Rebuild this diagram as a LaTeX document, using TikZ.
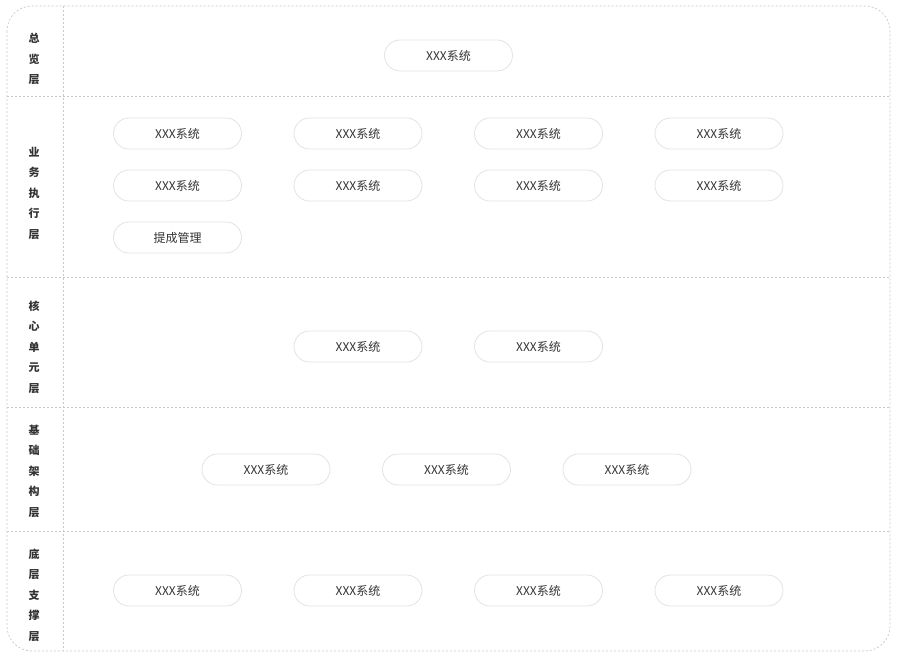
\documentclass[tikz,border=0pt]{standalone}
\usepackage{fontspec}
\setmainfont{Noto Sans CJK SC}
\definecolor{frameC}{HTML}{C8C8C8}
\definecolor{pillC}{HTML}{E3E3E3}
\definecolor{txtC}{HTML}{333333}
\begin{document}
\begin{tikzpicture}[x=1pt,y=-1pt,
  frame/.style={draw=frameC,line width=0.7pt,dash pattern=on 2pt off 2pt},
  pill/.style={draw=pillC,line width=0.8pt,fill=white,rounded corners=15.5pt,
    minimum width=128pt,minimum height=31pt,inner sep=0pt,
    font=\fontsize{12}{14}\selectfont,text=txtC},
  lab/.style={align=center,inner sep=0pt,font=\fontsize{11}{20.5}\selectfont\bfseries,text=txtC}]
\useasboundingbox (0,0) rectangle (898,658);
% frame
\draw[frame,rounded corners=25pt] (7,6) rectangle (890,651);
\draw[frame] (63,6) -- (63,651);
\foreach \yy in {96,277,407,531} \draw[frame] (7,\yy) -- (890,\yy);
% labels
\node[lab] (l1) at (34,59) {总\\览\\层};
\node[lab] (l2) at (34,193) {业\\务\\执\\行\\层};
\node[lab] (l3) at (34,347) {核\\心\\单\\元\\层};
\node[lab] (l4) at (34,471) {基\\础\\架\\构\\层};
\node[lab] (l5) at (34,595) {底\\层\\支\\撑\\层};
% overview
\node[pill] (o1) at (448.5,55.5) {XXX系统};
% business
\node[pill] (b1) at (177.5,133.5) {XXX系统};
\node[pill] (b2) at (358,133.5) {XXX系统};
\node[pill] (b3) at (538.5,133.5) {XXX系统};
\node[pill] (b4) at (719,133.5) {XXX系统};
\node[pill] (b5) at (177.5,185.5) {XXX系统};
\node[pill] (b6) at (358,185.5) {XXX系统};
\node[pill] (b7) at (538.5,185.5) {XXX系统};
\node[pill] (b8) at (719,185.5) {XXX系统};
\node[pill] (b9) at (177.5,237.5) {提成管理};
% core
\node[pill] (c1) at (358,346.5) {XXX系统};
\node[pill] (c2) at (538.5,346.5) {XXX系统};
% base
\node[pill] (f1) at (266,469.5) {XXX系统};
\node[pill] (f2) at (446.5,469.5) {XXX系统};
\node[pill] (f3) at (627,469.5) {XXX系统};
% bottom
\node[pill] (s1) at (177.5,590.5) {XXX系统};
\node[pill] (s2) at (358,590.5) {XXX系统};
\node[pill] (s3) at (538.5,590.5) {XXX系统};
\node[pill] (s4) at (719,590.5) {XXX系统};
\end{tikzpicture}
\end{document}
